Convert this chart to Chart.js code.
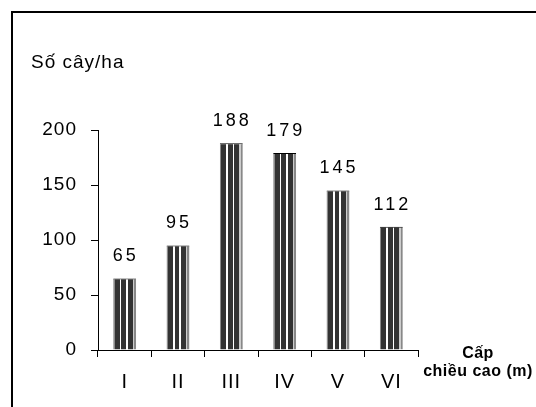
<!DOCTYPE html>
<html>
<head>
<meta charset="utf-8">
<script src="https://cdn.jsdelivr.net/npm/chart.js@4"></script>
<style>
  body { margin: 0; background: #fff; }
  .wrap { position: relative; width: 536px; height: 407px; overflow: hidden; }
  .frame { position: absolute; left: 11px; top: 11px; width: 600px; height: 500px;
           border-left: 2px solid #000; border-top: 2px solid #000; }
  canvas { position: absolute; left: 0; top: 0; }
</style>
</head>
<body>
<div class="wrap">
  <div class="frame"></div>
  <canvas id="myChart" width="536" height="407"></canvas>
</div>
<script>
const categories = ['I', 'II', 'III', 'IV', 'V', 'VI'];
const treesPerHa = [65, 95, 188, 179, 145, 112];
const yTicks = [0, 50, 100, 150, 200];

const yTitle = 'Số cây/ha';
const xTitle = ['Cấp', 'chiều cao (m)'];
const FONT = '"Liberation Sans", Arial, sans-serif';

// striped fill, stops in px across a 23px wide bar
const stripes = [
  [0, 1.5, '#8a8a8a'], [1.5, 6.5, '#333'], [6.5, 8, '#fff'], [8, 13, '#333'],
  [13, 14.5, '#fff'], [14.5, 19.5, '#333'], [19.5, 21, '#ccc'], [21, 23, '#888']
];

function barFill(ctx) {
  const chart = ctx.chart;
  const x = chart.scales && chart.scales.x;
  if (!x || !chart.chartArea) return '#333';
  const barW = (x.width / categories.length) * 0.43;
  const cx = x.getPixelForValue(ctx.dataIndex);
  const g = chart.ctx.createLinearGradient(cx - barW / 2, 0, cx + barW / 2, 0);
  stripes.forEach(s => {
    g.addColorStop(s[0] / 23, s[2]);
    g.addColorStop(Math.min(s[1] / 23, 1), s[2]);
  });
  return g;
}

// the original text is a bit wider than plain Arial
const spacingPlugin = {
  id: 'spacing',
  beforeDraw(chart) { chart.ctx.letterSpacing = '1px'; },
  afterDraw(chart) { chart.ctx.letterSpacing = '0px'; }
};

const labelsPlugin = {
  id: 'labels',
  afterDatasetsDraw(chart) {
    const c = chart.ctx;
    const meta = chart.getDatasetMeta(0);
    c.save();
    c.fillStyle = '#000';
    c.font = '18px ' + FONT;
    c.textAlign = 'center';
    c.textBaseline = 'middle';
    c.letterSpacing = '3px';
    meta.data.forEach((bar, i) => {
      c.fillText(String(treesPerHa[i]), bar.x + 1, bar.y - 22);
    });
    c.letterSpacing = '1px';
    c.font = '19px ' + FONT;
    c.textAlign = 'left';
    c.fillText(yTitle, 31, 63);
    c.font = 'bold 16px ' + FONT;
    c.letterSpacing = '0.5px';
    c.textAlign = 'center';
    c.fillText(xTitle[0], 478, 354);
    c.fillText(xTitle[1], 478, 372);
    c.restore();
  }
};

new Chart(document.getElementById('myChart'), {
  type: 'bar',
  data: {
    labels: categories,
    datasets: [{
      data: treesPerHa,
      backgroundColor: barFill,
      borderColor: '#000',
      borderWidth: { top: 1, left: 0, right: 0, bottom: 0 },
      borderSkipped: 'bottom',
      categoryPercentage: 1,
      barPercentage: 0.43
    }]
  },
  options: {
    responsive: false,
    animation: false,
    layout: { padding: { left: 0, right: 118, top: 130, bottom: 0 } },
    plugins: { legend: { display: false }, tooltip: { enabled: false } },
    scales: {
      x: {
        afterFit(s) { s.height = 57; },
        grid: { drawOnChartArea: false, color: '#000', tickLength: 7, offset: true },
        border: { color: '#000', width: 1 },
        ticks: { color: '#000', padding: 13, font: { family: FONT, size: 20 } }
      },
      y: {
        min: 0,
        max: 200,
        afterFit(s) { s.width = 98; },
        afterBuildTicks(s) { s.ticks = yTicks.map(v => ({ value: v })); },
        grid: { drawOnChartArea: false, color: '#000', tickLength: 7 },
        border: { color: '#000', width: 1 },
        ticks: { color: '#000', padding: 14, font: { family: FONT, size: 19 } }
      }
    }
  },
  plugins: [spacingPlugin, labelsPlugin]
});
</script>
</body>
</html>
